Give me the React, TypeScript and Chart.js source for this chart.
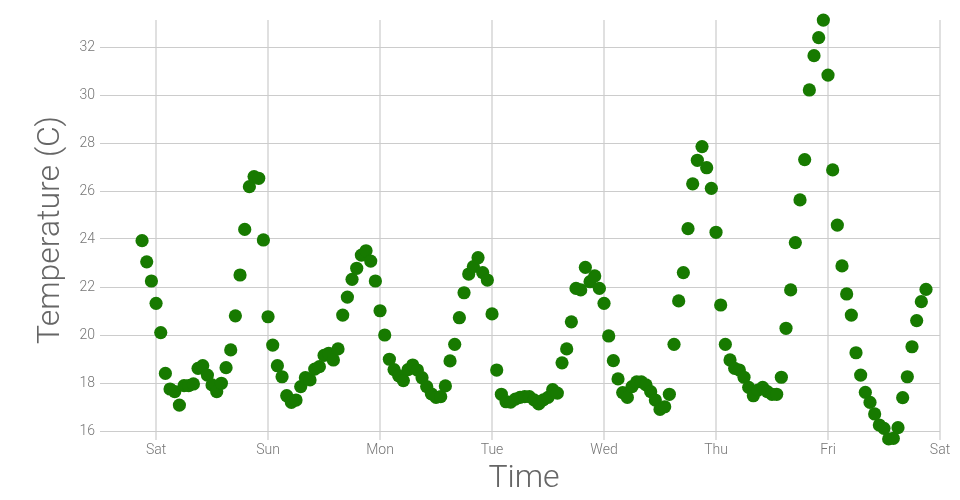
import React, { useEffect, useRef } from "react";
import { Chart, registerables } from "chart.js";

Chart.register(...registerables);

// Hourly temperatures (°C), starting Friday 21:00, ending next Friday 21:00
const friEvening = [23.93, 23.05, 22.25];
const saturday = [21.32, 20.1, 18.4, 17.75, 17.64, 17.08, 17.89, 17.89, 17.96, 18.61, 18.72, 18.33,
  17.92, 17.64, 17.99, 18.64, 19.38, 20.8, 22.5, 24.4, 26.18, 26.6, 26.53, 23.96];
const sunday = [20.76, 19.58, 18.72, 18.26, 17.47, 17.19, 17.29, 17.85, 18.22, 18.13, 18.58, 18.68,
  19.15, 19.24, 18.96, 19.42, 20.83, 21.58, 22.32, 22.78, 23.33, 23.51, 23.08, 22.25];
const monday = [21.01, 20.0, 18.99, 18.56, 18.3, 18.1, 18.56, 18.75, 18.54, 18.22, 17.85, 17.55,
  17.4, 17.43, 17.88, 18.92, 19.61, 20.72, 21.76, 22.54, 22.85, 23.22, 22.6, 22.29];
const tuesday = [20.88, 18.54, 17.53, 17.22, 17.2, 17.33, 17.4, 17.43, 17.43, 17.3, 17.13, 17.3,
  17.4, 17.72, 17.58, 18.84, 19.42, 20.55, 21.94, 21.88, 22.82, 22.22, 22.46, 21.94];
const wednesday = [21.32, 19.96, 18.93, 18.17, 17.6, 17.4, 17.85, 18.05, 18.05, 17.92, 17.64, 17.29,
  16.9, 17.01, 17.53, 19.61, 21.42, 22.6, 24.43, 26.3, 27.28, 27.85, 26.97, 26.11];
const thursday = [24.28, 21.25, 19.61, 18.96, 18.61, 18.54, 18.24, 17.82, 17.47, 17.7, 17.82, 17.64,
  17.53, 17.53, 18.24, 20.28, 21.88, 23.85, 25.63, 27.31, 30.21, 31.64, 32.39, 33.12];
const friday = [30.83, 26.88, 24.58, 22.88, 21.71, 20.83, 19.26, 18.33, 17.61, 17.19, 16.71, 16.25,
  16.11, 15.67, 15.69, 16.14, 17.39, 18.26, 19.51, 20.6, 21.39, 21.9];

const firstHour = -3; // hours relative to Saturday 00:00
const dayLabels = ["Sat", "Sun", "Mon", "Tue", "Wed", "Thu", "Fri", "Sat"];
const dayTickHours = [0, 24, 48, 72, 96, 120, 144, 168];
const tempTicks = [16, 18, 20, 22, 24, 26, 28, 30, 32];

const temperatures = [
  ...friEvening, ...saturday, ...sunday, ...monday, ...tuesday, ...wednesday, ...thursday, ...friday,
];

export default function App() {
  const ref = useRef<HTMLCanvasElement | null>(null);

  useEffect(() => {
    if (!ref.current) return;
    const points = temperatures.map((v, i) => ({ x: firstHour + i, y: v }));
    const tickFont = { family: "Roboto", size: 14, weight: 300 as any };
    const titleFont = { family: "Roboto", size: 32, weight: 300 as any };
    const chart = new Chart(ref.current, {
      type: "scatter",
      data: {
        datasets: [
          {
            data: points,
            backgroundColor: "#177a00",
            borderColor: "#177a00",
            borderWidth: 0,
            pointRadius: 6.6,
            pointHoverRadius: 6.6,
            clip: false as any,
          },
        ],
      },
      options: {
        animation: false,
        responsive: false,
        devicePixelRatio: 1,
        layout: { padding: { top: 20, right: 20, left: 0, bottom: 0 } },
        plugins: { legend: { display: false }, tooltip: { enabled: false } },
        scales: {
          x: {
            type: "linear",
            min: -10.3,
            max: 168,
            afterFit: (s: any) => {
              s.height = 60;
            },
            afterBuildTicks: (s: any) => {
              s.ticks = dayTickHours.map((v) => ({ value: v }));
            },
            grid: { color: "#e0e0e0", lineWidth: 2, tickLength: 0 },
            border: { display: false },
            ticks: {
              font: tickFont,
              color: "#757575",
              padding: 2,
              maxRotation: 0,
              callback: (v: any) => dayLabels[dayTickHours.indexOf(Number(v))] ?? "",
            },
            title: {
              display: true,
              text: "Time",
              font: titleFont,
              color: "#666666",
              padding: { top: 0, bottom: 2 },
            },
          },
          y: {
            type: "linear",
            min: 15.625,
            max: 33.125,
            afterFit: (s: any) => {
              s.width = 108;
            },
            afterBuildTicks: (s: any) => {
              s.ticks = tempTicks.map((v) => ({ value: v }));
            },
            grid: { color: "#cccccc", lineWidth: 1, tickLength: 8 },
            border: { display: false },
            ticks: { font: tickFont, color: "#757575", padding: 5 },
            title: {
              display: true,
              text: "Temperature (C)",
              font: titleFont,
              color: "#666666",
              padding: { top: 32, bottom: 0 },
            },
          },
        },
      },
    });
    return () => chart.destroy();
  }, []);

  return (
    <div style={{ position: "absolute", left: 0, top: 0, width: 960, height: 500, background: "#fff" }}>
      <canvas ref={ref} width={960} height={500} style={{ width: 960, height: 500 }} />
    </div>
  );
}
